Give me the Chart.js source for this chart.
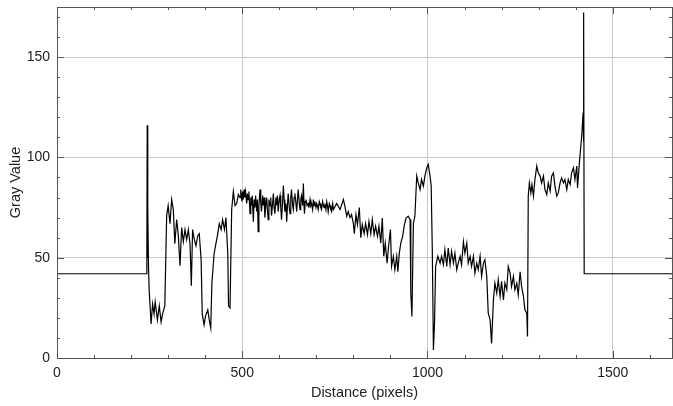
<!DOCTYPE html>
<html>
<head>
<meta charset="utf-8">
<script src="https://cdn.jsdelivr.net/npm/chart.js@4"></script>
<style>
  body { margin: 0; background: #fff; }
  #caixa { width: 673px; height: 406px; }
</style>
</head>
<body>
<div id="caixa"><canvas id="grafico" width="673" height="406"></canvas></div>
<script>
// perfil (distancia em pixels, valor de cinza)
const distance = [
  0, 242, 242.5, 243.5, 244.5, 245.5, 247, 249, 254, 258, 262, 265, 271, 276, 281, 285, 291,
  296, 300, 305, 309.5, 314, 318, 323, 327.5, 332, 336.5, 341, 345.5, 350, 354.5, 359, 362.6,
  366, 370.7, 375, 380, 384, 389, 392, 397, 401, 407, 411, 415, 418, 424, 429, 434, 438, 443,
  447, 452, 456, 461, 463, 467, 471.5, 476, 480.5, 485, 489.5, 494,
  496, 499, 501, 503, 505, 507, 509, 512, 514, 516,
  518, 521, 523, 525, 527, 530, 532, 534, 536, 539,
  541, 543, 545, 548, 550, 552, 555, 557, 559, 561,
  564, 566, 568, 570, 572, 575, 577, 579, 582, 584,
  586, 588, 591, 593, 595, 597, 600, 602, 604, 606,
  609, 611, 613, 615, 618, 620, 622, 624, 627, 629,
  631, 633, 636, 638, 640, 642, 645, 647, 649, 651,
  654, 656, 658, 660, 663, 665, 667, 668, 670, 672,
  675, 678, 680, 683, 685, 687, 690, 692, 694, 696,
  699, 701, 703, 705, 708, 710, 712, 714, 717, 719,
  721, 723, 726, 728, 730, 732, 735, 737, 739, 741,
  744, 746,
  755, 764, 773, 777, 782, 786, 791, 795, 800, 802.5, 807, 811, 816, 820, 824, 829, 833,
  838, 842, 847, 851, 856, 860, 865, 869, 874, 878, 882, 886, 891, 895, 900, 903, 908, 912,
  917, 920, 924, 928, 933, 937, 942, 948, 953, 955, 958, 962, 966, 971, 975, 980, 984, 989,
  993, 998, 1002, 1007, 1010, 1013, 1016, 1019, 1022, 1028, 1034, 1038, 1043, 1047, 1052, 1056,
  1061, 1065, 1070, 1074, 1079, 1083, 1088, 1092, 1097, 1101, 1106, 1110, 1115, 1119, 1124,
  1128, 1133, 1137, 1142, 1146, 1151, 1155, 1160, 1164, 1169, 1173, 1178, 1182, 1187, 1191,
  1196, 1200, 1205, 1209, 1214, 1218, 1223, 1227, 1232, 1236, 1241, 1245, 1250, 1254, 1259,
  1263, 1268, 1270, 1272, 1275, 1279, 1282, 1286, 1290, 1295, 1299, 1304, 1308, 1313, 1317,
  1322, 1326, 1331, 1335, 1340, 1344, 1349, 1353, 1358, 1362, 1367, 1371, 1376, 1380, 1385,
  1389, 1394, 1398, 1403, 1405, 1410, 1414, 1417, 1420, 1421, 1422, 1423, 1660
];
const grayValue = [
  42, 42, 50, 116, 50, 75, 45, 33, 17, 27, 22, 28, 19, 26, 18, 22, 26,
  71, 76, 67, 79, 74, 57, 69, 61, 46, 65, 58, 64, 59, 64, 57, 36,
  64, 59, 56, 61, 62, 49, 22, 16.5, 21, 24, 19, 15, 37, 52, 57, 62, 67, 64,
  69, 64, 70, 52, 26, 25, 74, 83, 76, 77, 81.5, 80,
  84, 78, 83, 79, 84, 80, 83, 77, 82, 79,
  83, 72, 80, 76, 81, 68, 79, 75, 81, 73,
  79, 63, 76, 84, 77, 73, 81, 76, 80, 70,
  77, 80, 74, 69, 79, 76, 80, 71, 77, 82,
  75, 72, 80, 76, 81, 73, 79, 81, 75, 69,
  78, 86, 79, 73, 77, 68, 76, 82, 75, 72,
  80, 84, 76, 74, 80, 82, 77, 73, 79, 84,
  77, 74, 79, 81, 76, 87, 75, 72, 78, 79,
  76, 77, 75, 79, 76, 77, 74, 79, 76, 78,
  75, 77, 76, 74, 78, 77, 75, 74, 78, 76,
  75, 77, 74, 78, 76, 73, 77, 76, 74, 73,
  77, 74,
  77, 74, 79, 75.7, 70.7, 73, 70, 71.5, 67, 62, 71.5, 66.5, 75, 60, 66.5, 62, 67,
  61.5, 68, 62, 69, 61.5, 65.7, 60.7, 65.7, 57.3, 69.8, 50.7, 57.3, 47.3, 55.7, 64, 45.7, 50.7, 44,
  50.7, 43, 52.3, 57.3, 60.7, 65.7, 69.8, 70.7, 69, 32.3, 20.7, 67.3, 70.7, 90.7, 87.3, 84, 89, 85.7,
  90.7, 94.8, 96.5, 90.7, 85.7, 54, 4, 17.3, 45.7, 50.7, 47.3, 50.7, 46.5, 54, 45.7, 54.8,
  46.5, 53.2, 47.3, 52.3, 44, 47.3, 50.7, 46.5, 58, 52.3, 57.3, 47.3, 50.7, 45.7, 50.7,
  42.3, 47.3, 44, 50.7, 40.7, 47.3, 49, 40.7, 22.3, 19, 7.3, 29, 37.3, 32.3, 39,
  30.7, 38.2, 29, 37.3, 34, 45.7, 42.3, 35.7, 40.7, 34, 37.3, 31.5, 43, 35.7, 30.7,
  24, 22.3, 10.7, 80.7, 87.3, 82.3, 86.5, 80.7, 89, 95.7, 92.3, 90.7, 87.3, 90.7, 84,
  81.5, 87.3, 83.2, 90.7, 92.3, 85.7, 80.7, 82.3, 87.3, 89.8, 87.3, 89, 84, 89, 86.5,
  92.3, 94.8, 89, 95.7, 84.8, 97.3, 105.7, 112.3, 122.3, 108, 172.3, 42, 42
];

// eixos
const xMajor = [0, 500, 1000, 1500];
const yMajor = [0, 50, 100, 150];
const xMax = 1660;
const yMax = 175;

const fonte = "'Liberation Sans', Arial, sans-serif";
const corTexto = '#222';
const corEixo = '#555';
const corGrade = '#c8c8c8';

let pontos = distance.map(function(d, i) {
    return { x: d, y: grayValue[i] };
});

// moldura e marcas para dentro, como no ImageJ
const moldura = {
    id: 'moldura',
    afterDatasetsDraw(chart) {
        const { ctx, chartArea: a, scales } = chart;
        ctx.save();
        ctx.strokeStyle = corEixo;
        ctx.lineWidth = 1;
        ctx.beginPath();
        scales.x.ticks.forEach(function(t) {
            let px = Math.round(scales.x.getPixelForValue(t.value)) + 0.5;
            let len = xMajor.includes(t.value) ? 7 : 3;
            ctx.moveTo(px, a.bottom); ctx.lineTo(px, a.bottom - len);
            ctx.moveTo(px, a.top); ctx.lineTo(px, a.top + len);
        });
        scales.y.ticks.forEach(function(t) {
            let py = Math.round(scales.y.getPixelForValue(t.value)) + 0.5;
            let len = yMajor.includes(t.value) ? 7 : 3;
            ctx.moveTo(a.left, py); ctx.lineTo(a.left + len, py);
            ctx.moveTo(a.right, py); ctx.lineTo(a.right - len, py);
        });
        ctx.stroke();
        ctx.strokeRect(a.left + 0.5, a.top + 0.5, a.right - a.left, a.bottom - a.top);
        ctx.restore();
    }
};

let ctx = document.getElementById('grafico').getContext('2d');
var graficoChart = new Chart(ctx, {
    type: 'line',
    data: {
        datasets: [{
            data: pontos,
            borderColor: '#000',
            borderWidth: 1.2,
            pointRadius: 0,
            tension: 0,
            fill: false
        }]
    },
    options: {
        responsive: false,
        animation: false,
        layout: { padding: { top: 7, right: 1, left: 0, bottom: 0 } },
        plugins: { legend: { display: false }, tooltip: { enabled: false } },
        scales: {
            x: {
                type: 'linear',
                min: 0,
                max: xMax,
                afterFit: function(s) {
                    s.height = 48;
                    s.paddingLeft = 0;
                    s.paddingRight = 0;
                },
                border: { display: false },
                grid: {
                    drawTicks: false,
                    color: function(c) {
                        return c.tick && xMajor.includes(c.tick.value) ? corGrade : 'rgba(0,0,0,0)';
                    }
                },
                ticks: {
                    stepSize: 100,
                    autoSkip: false,
                    includeBounds: false,
                    maxRotation: 0,
                    padding: 7,
                    color: corTexto,
                    font: { family: fonte, size: 14 },
                    callback: function(v) { return xMajor.includes(v) ? String(v) : ''; }
                },
                title: {
                    display: true,
                    text: 'Distance (pixels)',
                    color: corTexto,
                    font: { family: fonte, size: 14.5 },
                    padding: { top: 0, bottom: 4 }
                }
            },
            y: {
                min: 0,
                max: yMax,
                afterFit: function(s) {
                    s.width = 57;
                    s.paddingTop = 0;
                    s.paddingBottom = 0;
                },
                border: { display: false },
                grid: {
                    drawTicks: false,
                    color: function(c) {
                        return c.tick && yMajor.includes(c.tick.value) ? corGrade : 'rgba(0,0,0,0)';
                    }
                },
                ticks: {
                    stepSize: 10,
                    autoSkip: false,
                    includeBounds: false,
                    padding: 7,
                    color: corTexto,
                    font: { family: fonte, size: 14 },
                    callback: function(v) { return yMajor.includes(v) ? String(v) : ''; }
                },
                title: {
                    display: true,
                    text: 'Gray Value',
                    color: corTexto,
                    font: { family: fonte, size: 14.5 },
                    padding: { top: 7, bottom: 0 }
                }
            }
        }
    },
    plugins: [moldura]
});
</script>
</body>
</html>
